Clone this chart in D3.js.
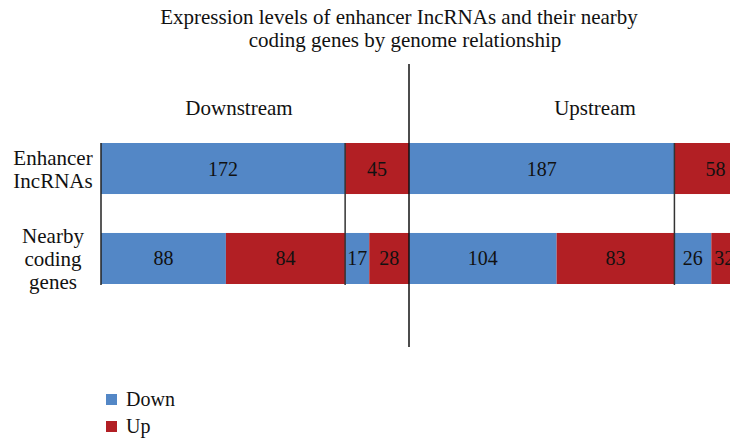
<!DOCTYPE html>
<html>
<head>
<meta charset="utf-8">
<script src="https://cdn.jsdelivr.net/npm/d3@7"></script>
<style>
  body { margin: 0; background: #fff; }
  text { font-family: "Liberation Serif", "DejaVu Serif", serif; fill: #111; }
</style>
</head>
<body>
<div id="chart"></div>
<script>
// groups by genome relationship, and up/down expression status
var groups = ["Downstream", "Upstream"];
var statuses = ["Down", "Up"];
var rows = ["lnc", "genes"];
var rowLabels = [["Enhancer", "IncRNAs"], ["Nearby", "coding", "genes"]];

// enhancer lncRNAs: down, up for each group
var lncValues = [172, 45, 187, 58];
// nearby coding genes: down, up (for down lncRNAs) then down, up (for up lncRNAs), per group
var geneValues = [88, 84, 17, 28, 104, 83, 26, 32];

var colors = { Down: "#5387c6", Up: "#b21f24" };

var svgWidth = 730;
var svgHeight = 440;

var svg = d3.select("#chart")
    .append("svg")
    .attr("width", svgWidth)
    .attr("height", svgHeight);

var downTotal = d3.sum(lncValues.slice(0, 2));

var xScale = d3.scaleLinear()
    .domain([0, downTotal])
    .range([101, 409]);

var yScale = d3.scaleBand()
    .domain(rows)
    .range([143, 284])
    .paddingInner(0.433)
    .paddingOuter(0);

// build stacked segments from the arrays
function segments(values, row) {
    var ends = d3.cumsum(values);
    return values.map(function(v, i) {
        return {
            row: row,
            value: v,
            start: ends[i] - v,
            end: ends[i],
            status: statuses[i % 2]
        };
    });
}
var segs = segments(lncValues, "lnc").concat(segments(geneValues, "genes"));

// title
var title = svg.append("g");
title.append("text")
    .attr("x", 399).attr("y", 24)
    .attr("text-anchor", "middle")
    .attr("font-size", 21)
    .text("Expression levels of enhancer IncRNAs and their nearby");
title.append("text")
    .attr("x", 405).attr("y", 47)
    .attr("text-anchor", "middle")
    .attr("font-size", 21)
    .text("coding genes by genome relationship");

// bars
svg.selectAll("rect.seg")
    .data(segs)
    .enter()
    .append("rect")
    .attr("class", "seg")
    .attr("x", function(d) { return xScale(d.start); })
    .attr("y", function(d) { return yScale(d.row); })
    .attr("width", function(d) { return xScale(d.end) - xScale(d.start); })
    .attr("height", yScale.bandwidth())
    .attr("fill", function(d) { return colors[d.status]; });

// value labels; a label whose middle falls off the page starts at its bar instead
svg.selectAll("text.val")
    .data(segs)
    .enter()
    .append("text")
    .attr("class", "val")
    .attr("x", function(d) {
        var mid = (xScale(d.start) + xScale(d.end)) / 2;
        return mid > svgWidth ? xScale(d.start) + 3 : mid;
    })
    .attr("y", function(d) { return yScale(d.row) + yScale.bandwidth() / 2 + 7; })
    .attr("text-anchor", function(d) {
        return (xScale(d.start) + xScale(d.end)) / 2 > svgWidth ? "start" : "middle";
    })
    .attr("font-size", 20)
    .text(function(d) { return d.value; });

// axis line at zero
svg.append("line")
    .attr("x1", xScale(0)).attr("x2", xScale(0))
    .attr("y1", 143).attr("y2", 285)
    .attr("stroke", "#222").attr("stroke-width", 1.5);

// dividers between down and up lncRNAs in each group
var lncEnds = d3.cumsum(lncValues);
[lncEnds[0], lncEnds[2]].forEach(function(v) {
    svg.append("line")
        .attr("x1", xScale(v)).attr("x2", xScale(v))
        .attr("y1", 143).attr("y2", 285)
        .attr("stroke", "#333").attr("stroke-width", 1.5);
});

// long separator between downstream and upstream
svg.append("line")
    .attr("x1", xScale(downTotal)).attr("x2", xScale(downTotal))
    .attr("y1", 64).attr("y2", 347)
    .attr("stroke", "#111").attr("stroke-width", 1.5);

// group labels
svg.selectAll("text.group")
    .data(groups)
    .enter()
    .append("text")
    .attr("class", "group")
    .attr("x", function(d, i) { return [239, 595][i]; })
    .attr("y", 115)
    .attr("text-anchor", "middle")
    .attr("font-size", 21)
    .text(function(d) { return d; });

// row labels
rowLabels.forEach(function(lines, r) {
    var top = [165, 243][r];
    lines.forEach(function(t, j) {
        svg.append("text")
            .attr("x", 53)
            .attr("y", top + j * 23)
            .attr("text-anchor", "middle")
            .attr("font-size", 21)
            .text(t);
    });
});

// legend
var legend = svg.selectAll("g.legend")
    .data(statuses)
    .enter()
    .append("g")
    .attr("class", "legend")
    .attr("transform", function(d, i) { return "translate(106," + (394 + i * 27) + ")"; });

legend.append("rect")
    .attr("width", 11).attr("height", 11)
    .attr("fill", function(d) { return colors[d]; });

legend.append("text")
    .attr("x", 20).attr("y", 12)
    .attr("font-size", 20)
    .text(function(d) { return d; });
</script>
</body>
</html>
